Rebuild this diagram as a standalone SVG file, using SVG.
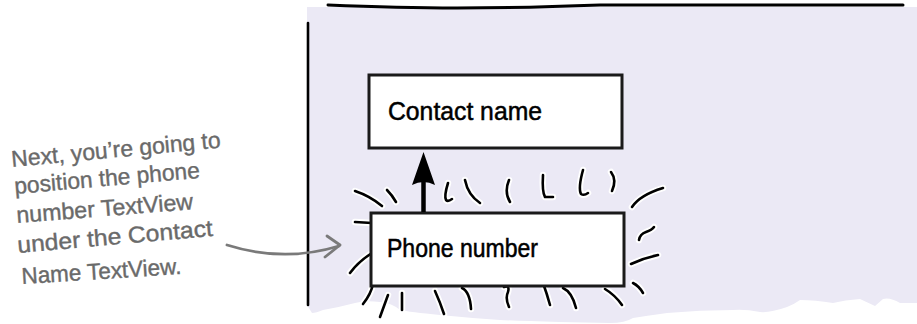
<svg xmlns="http://www.w3.org/2000/svg" xmlns:xlink="http://www.w3.org/1999/xlink" width="917" height="324" viewBox="0 0 917 324">
  <style>
    .panel { fill: #ebe9f5; stroke: none; }
    .frame { fill: none; stroke: #000; stroke-width: 3; stroke-linecap: round; }
    .box { fill: #fff; stroke: #1a1a1a; stroke-width: 3; }
    .label { font-family: "Liberation Sans", Arial, sans-serif; font-size: 25px; fill: #000; stroke: #000; stroke-width: 0.5; }
    .note { font-family: "Liberation Sans", Arial, sans-serif; font-size: 23px; fill: #6a6a6a; stroke: #6a6a6a; stroke-width: 0.4; }
    .halo { fill: none; stroke: #fff; stroke-width: 6.5; stroke-linecap: round; stroke-linejoin: round; }
    .ray { fill: none; stroke: #000; stroke-width: 2.6; stroke-linecap: round; stroke-linejoin: round; }
    .grayarrow { fill: none; stroke: #7a7a7a; stroke-width: 2.8; stroke-linecap: round; stroke-linejoin: round; }
  </style>
  <defs>
    <g id="rays">
      <path d="M355,191 Q370,196 382,206"/>
      <path d="M387,190 Q392,195 396,202"/>
      <path d="M448,183 Q444,196 446,200 Q448,202 452,199"/>
      <path d="M465,180 Q468,195 480,203"/>
      <path d="M509,180 Q504,192 510,202"/>
      <path d="M543,175 Q542,192 545,197 L553,197"/>
      <path d="M583,170 Q578,188 581,194 Q584,196 588,193"/>
      <path d="M611,172 Q617,180 612,191"/>
      <path d="M632,207 Q640,195 663,188"/>
      <path d="M355,222 L372,223"/>
      <path d="M350,273 Q358,262 372,253"/>
      <path d="M639,240 Q640,234 646,232 Q652,230 654,227"/>
      <path d="M631,264 Q644,258 658,255"/>
      <path d="M633,283 Q639,286 643,293"/>
      <path d="M373,284 Q371,294 363,304"/>
      <path d="M388,295 L380,317"/>
      <path d="M402,293 L402,310"/>
      <path d="M435,291 Q440,302 444,314"/>
      <path d="M462,288 Q470,292 471,309"/>
      <path d="M504,287 Q510,285 508,292 Q505,298 509,307"/>
      <path d="M543,283 Q547,294 550,305"/>
      <path d="M563,288 Q572,292 576,308"/>
      <path d="M605,289 Q615,295 622,305"/>
    </g>
  </defs>

  <g id="panel">
    <path class="panel" d="M307,7 L917,7 L917,303 L900,303 Q890,297 883,299 L875,306 L860,299 Q845,300 833,303 Q815,300 800,300 Q793,305 787,307 Q770,313 760,312 Q745,309 733,310 Q700,310 667,313 Q645,316 633,318 Q625,323 610,323 L560,322 Q520,321 500,320 Q470,318 440,315 Q410,312 400,310 Q392,303 380,302 Q365,300 355,303 Q340,307 323,310 Q316,313 312,313 L307,305 Z"/>
    <path class="frame" d="M328,5 Q400,8 457,8 Q520,8 600,5 L903,5"/>
    <path class="frame" d="M308,23 L308,305" style="stroke-width:2.6"/>
  </g>

  <g id="highlight-rays">
    <use xlink:href="#rays" href="#rays" class="halo"/>
    <use xlink:href="#rays" href="#rays" class="ray"/>
  </g>

  <g id="contact-name">
    <rect class="box" x="369" y="75" width="253" height="73"/>
    <text class="label" x="388" y="120" textLength="154" lengthAdjust="spacingAndGlyphs">Contact name</text>
  </g>

  <g id="phone-number">
    <rect class="box" x="371" y="213" width="253" height="73"/>
    <text class="label" x="387" y="257" textLength="151" lengthAdjust="spacingAndGlyphs">Phone number</text>
  </g>

  <g id="annotation">
    <text class="note" x="12" y="167" transform="rotate(-5.3 12 167)" textLength="210" lengthAdjust="spacingAndGlyphs">Next, you’re going to</text>
    <text class="note" x="15" y="194" transform="rotate(-5 15 194)" textLength="186" lengthAdjust="spacingAndGlyphs">position the phone</text>
    <text class="note" x="17" y="223" transform="rotate(-4.5 17 223)" textLength="177" lengthAdjust="spacingAndGlyphs">number TextView</text>
    <text class="note" x="18" y="253" transform="rotate(-5 18 253)" textLength="196" lengthAdjust="spacingAndGlyphs">under the Contact</text>
    <text class="note" x="22" y="284" transform="rotate(-3.6 22 284)" textLength="160" lengthAdjust="spacingAndGlyphs">Name TextView.</text>
  </g>

  <g id="connectors">
    <g id="arrow-phone-to-contact">
      <line x1="423.5" y1="212" x2="423.5" y2="178" stroke="#000" stroke-width="4.5"/>
      <path d="M423.5,152 L435,185 Q423.5,179 412,185 Z" fill="#000"/>
    </g>
    <g id="arrow-note-to-phone">
      <path class="grayarrow" d="M227,245 C262,256 300,258 339,246"/>
      <path class="grayarrow" d="M327,236 L340,245 L325,257"/>
    </g>
  </g>
</svg>
